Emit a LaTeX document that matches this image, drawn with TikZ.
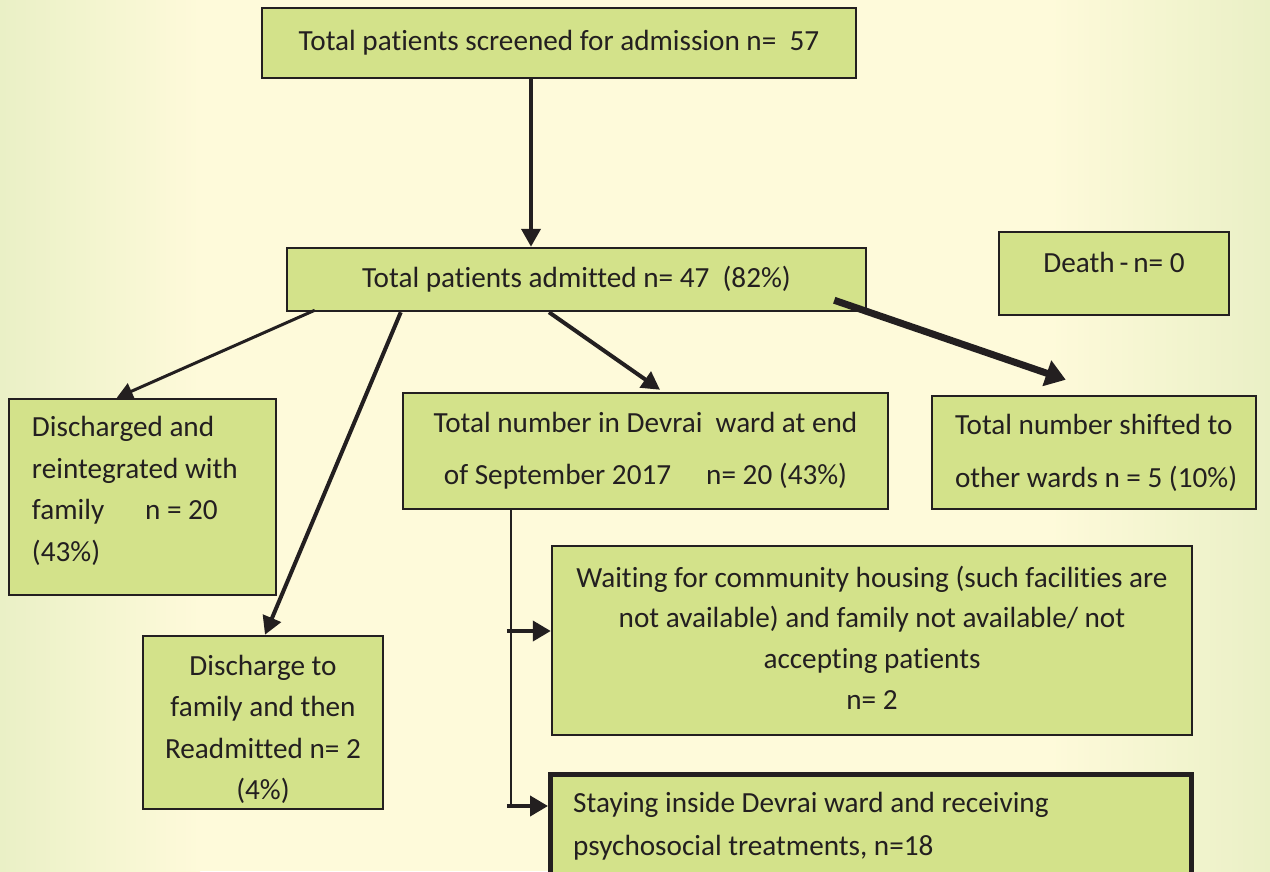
\documentclass[tikz,border=0pt]{standalone}
\usepackage{fontspec}
\setmainfont{Carlito}[Ligatures={NoCommon,NoContextual}]
\usetikzlibrary{arrows.meta}
\definecolor{bgyellow}{HTML}{FEFADA}
\definecolor{bgedge}{HTML}{EAF0C6}
\definecolor{boxfill}{HTML}{D3E28A}
\definecolor{ink}{HTML}{231F20}
\newcommand{\indentline}{\hspace*{5pt}}
\tikzset{
  box/.style={draw=ink, line width=2.5pt, fill=boxfill, text=ink, inner sep=0pt,
    font=\fontsize{29.2}{41.5}\selectfont},
  boxtext/.style={text=ink, inner sep=0pt, font=\fontsize{29.2}{43}\selectfont},
  link/.style={draw=ink, line width=4pt, -{Triangle[length=18pt,width=19pt]}},
  trunk/.style={draw=ink, line width=2.5pt},
}
\begin{document}
\begin{tikzpicture}[x=1pt,y=-1pt]
\useasboundingbox (0,0) rectangle (1270,871);
\clip (0,0) rectangle (1270,871);
% background with greenish side edges
\fill[left color=bgedge, right color=bgyellow] (0,0) rectangle (200,871);
\fill[bgyellow] (199,0) rectangle (1051,871);
\fill[left color=bgyellow, right color=bgedge] (1050,0) rectangle (1270,871);

% boxes
\node[box, minimum width=594pt, minimum height=70pt] (screen) at (559,43)
  {Total patients screened for admission n=\ \ 57};
\node[box, minimum width=579pt, minimum height=63pt] (admit) at (576.5,279.5)
  {Total patients admitted n= 47\ \ (82\%)};
\node[box, minimum width=230pt, minimum height=83pt] (death) at (1114,273.5) {};
\node[boxtext] at (1114,262) {Death\,-\,n= 0};
\node[box, minimum height=196pt, text width=231pt, inner xsep=18pt, align=flush left] (disch) at (142.5,497)
  {\indentline Discharged and\\ \indentline reintegrated with\\
   \indentline family\hspace{1.4em}n = 20\\ \indentline (43\%)\rule[-16pt]{0pt}{0pt}};
\node[box, minimum width=485pt, minimum height=116pt, align=center,
  font=\fontsize{29.2}{52}\selectfont] (devrai) at (645.5,451)
  {Total number in Devrai\ \ ward at end\\ of September 2017\hspace{1.2em}n= 20 (43\%)};
\node[box, minimum height=113pt, text width=288pt, inner xsep=18pt, align=flush left,
  font=\fontsize{29.2}{53}\selectfont] (shift) at (1094,452.5)
  {\indentline Total number shifted to\\ \indentline other wards n = 5 (10\%)};
\node[box, minimum width=240pt, minimum height=173pt, align=center] (fam) at (263,722.5)
  {\rule{0pt}{34pt}Discharge to\\ family and then\\ Readmitted n= 2\\ (4\%)};
\node[box, minimum width=640pt, minimum height=189pt, align=center,
  font=\fontsize{29.2}{40.7}\selectfont] (wait) at (872,640.5)
  {Waiting for community housing (such facilities are\\ not available) and family not available/ not\\
   accepting patients\\ n= 2\rule[-6pt]{0pt}{0pt}};
\node[box, line width=5pt, minimum width=641pt, minimum height=140pt, anchor=north west] (stay) at (548,772) {};
\node[boxtext, anchor=west, align=left] at (573,826)
  {Staying inside Devrai ward and receiving\\ psychosocial treatments, n=18};

% connectors
\draw[link] ([xshift=-28pt]screen.south) -- ([xshift=-45.5pt]admit.north);
\draw[link, line width=3pt, -{Triangle[length=16pt,width=17pt]}]
  ([shift={(29pt,2pt)}]admit.south west) -- ([xshift=109pt]disch.north west);
\draw[link] ([xshift=115pt]admit.south west) -- ([xshift=2pt]fam.north);
\draw[link] ([xshift=-27.5pt]admit.south) -- ([shift={(14.5pt,2pt)}]devrai.north);
\draw[link, line width=7pt, -{Triangle[length=20pt,width=26pt]}]
  ([shift={(-33pt,12pt)}]admit.south east) -- ([shift={(135pt,15pt)}]shift.north west);

% branch from the ward box to its two sub-groups
\coordinate (top) at ([xshift=109pt]devrai.south west);
\coordinate (w) at ([yshift=9.5pt]wait.west);
\coordinate (s) at ([yshift=-34pt]stay.north west);
\draw[trunk] (top) -- (top |- s);
\draw[link, -{Triangle[length=18pt,width=20pt]}] ([xshift=-4pt]top |- w) -- (w);
\draw[link, -{Triangle[length=18pt,width=20pt]}] ([xshift=-4pt]top |- s) -- (s);
\end{tikzpicture}
\end{document}
